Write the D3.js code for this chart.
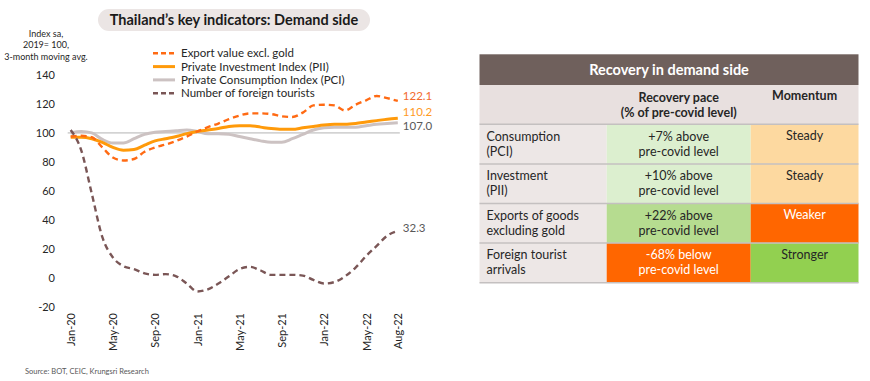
<!DOCTYPE html>
<html>
<head>
<meta charset="utf-8">
<script src="https://d3js.org/d3.v7.min.js"></script>
<style>
  body { margin: 0; background: #fff; }
  text { font-family: Lato, "Open Sans", sans-serif; }
</style>
</head>
<body>
<div id="viz"></div>
<script>
// monthly data, Jan-20 .. Aug-22
const months = d3.range(32);
const tickMonths = [0, 4, 8, 12, 16, 20, 24, 28, 31];
const tickLabels = ["Jan-20", "May-20", "Sep-20", "Jan-21", "May-21", "Sep-21", "Jan-22", "May-22", "Aug-22"];
const yTicks = [140, 120, 100, 80, 60, 40, 20, 0, -20];

const exportsExGold = [97.5, 98, 97, 90, 83, 81, 82, 87, 90, 92, 94.5, 97.5, 101, 104, 106.5, 109.5,
                       112, 113.5, 113.5, 113, 111.5, 111, 114, 119, 119.5, 119, 115.5, 119.5, 122.5, 125.5, 124, 122.1];
const pii = [97, 97, 96, 93.5, 90, 88, 88.5, 91.5, 94.5, 96, 97.5, 99.5, 101, 102, 103, 104.5,
             105, 105, 104, 103, 102.5, 102.5, 103.5, 104.5, 105.5, 106, 106, 106.5, 107.5, 108.5, 109.5, 110.2];
const pci = [100, 101, 100, 95.5, 93, 93, 96, 99, 100.5, 101, 101.5, 102, 101, 99.5, 99.5, 99,
             97.5, 96, 94.5, 93.5, 93.5, 96, 99, 102, 103.5, 104, 104, 104, 105, 106, 106.5, 107.0];
const tourists = [102, 88, 58, 28, 14, 8, 6, 3, 2, 2.5, 1, -4, -9.5, -8, -4, 1,
                  6, 7.5, 5, 2, 2, 2, 1.5, -1.5, -4, -3, 1, 7, 15, 22, 29, 32.3];

const seriesNames = ["Export value excl. gold", "Private Investment Index (PII)",
                     "Private Consumption Index (PCI)", "Number of foreign tourists"];

// table data
const tableTitle = "Recovery in demand side";
const rowNames = [["Consumption", "(PCI)"], ["Investment", "(PII)"],
                  ["Exports of goods", "excluding gold"], ["Foreign tourist", "arrivals"]];
const paceValues = [7, 10, 22, -68];
const paceText = [["+7% above", "pre-covid level"], ["+10% above", "pre-covid level"],
                  ["+22% above", "pre-covid level"], ["-68% below", "pre-covid level"]];
const momentum = ["Steady", "Steady", "Weaker", "Stronger"];

const W = 870, H = 381;
const svg = d3.select("#viz").append("svg").attr("width", W).attr("height", H);

const x = d3.scaleLinear().domain([0, 31]).range([70.7, 397.8]);
const y = d3.scaleLinear().domain([-20, 140]).range([306.7, 75]);

// title pill
svg.append("rect").attr("x", 98).attr("y", 9).attr("width", 272).attr("height", 22)
   .attr("rx", 11).attr("fill", "#ebe5e4");
svg.append("text").attr("x", 234).attr("y", 20).attr("dy", "0.35em")
   .attr("text-anchor", "middle").attr("font-weight", "bold").attr("font-size", 14.5)
   .attr("fill", "#1a1a1a").text("Thailand\u2019s key indicators: Demand side");

// y axis title
["Index sa,", "2019= 100,", "3-month moving avg."].forEach((t, i) => {
  svg.append("text").attr("x", 46).attr("y", 33.5 + i * 11.5).attr("dy", "0.35em")
     .attr("text-anchor", "middle").attr("font-size", 9).attr("fill", "#262626").text(t);
});

// y axis (labels only)
const yAxis = svg.append("g").attr("transform", "translate(55,0)")
  .call(d3.axisLeft(y).tickValues(yTicks).tickSize(0).tickPadding(0).tickFormat(d => String(d)));
yAxis.select(".domain").remove();
yAxis.selectAll("text").attr("font-size", 11).attr("fill", "#262626")
     .style("font-family", "Lato, sans-serif");

// x axis (rotated labels only)
const xAxis = svg.append("g").attr("transform", "translate(0,313)")
  .call(d3.axisBottom(x).tickValues(tickMonths).tickSize(0)
          .tickFormat((d, i) => tickLabels[i]));
xAxis.select(".domain").remove();
xAxis.selectAll("text")
     .attr("transform", "rotate(-90)")
     .attr("x", 0).attr("y", 0).attr("dy", "0.35em")
     .attr("text-anchor", "end")
     .attr("font-size", 11).attr("fill", "#262626")
     .style("font-family", "Lato, sans-serif");

// reference line at 100
svg.append("line").attr("x1", x(0) - 3).attr("x2", x(31) + 2)
   .attr("y1", y(100)).attr("y2", y(100))
   .attr("stroke", "#b3b3b3").attr("stroke-width", 1);

const line = d3.line().x(d => x(d[0])).y(d => y(d[1])).curve(d3.curveMonotoneX);
const styles = [
  {data: exportsExGold, color: "#ff6a13", width: 2.4, dash: "6,4"},
  {data: pii, color: "#ff9a0a", width: 3, dash: null},
  {data: pci, color: "#ccc2c2", width: 3, dash: null},
  {data: tourists, color: "#7a5656", width: 2.4, dash: "6,4"}
];
// draw order: pci, pii, exports, tourists
[2, 1, 0, 3].forEach(k => {
  const s = styles[k];
  svg.append("path")
     .datum(months.map(m => [m, s.data[m]]))
     .attr("fill", "none").attr("stroke", s.color)
     .attr("stroke-width", s.width)
     .attr("stroke-dasharray", s.dash)
     .attr("d", line);
});

// legend
seriesNames.forEach((name, i) => {
  const ly = 53.3 + i * 13.3;
  svg.append("line").attr("x1", 153).attr("x2", 175).attr("y1", ly).attr("y2", ly)
     .attr("stroke", styles[i].color).attr("stroke-width", styles[i].width)
     .attr("stroke-dasharray", styles[i].dash ? "5,3" : null);
  svg.append("text").attr("x", 181).attr("y", ly).attr("dy", "0.35em")
     .attr("font-size", 11.5).attr("fill", "#262626").text(name);
});

// end labels
const endLabels = [
  {v: exportsExGold[31], dy: 96, color: "#f26a2e"},
  {v: pii[31], dy: 111.5, color: "#ff9a1e"},
  {v: pci[31], dy: 126, color: "#595959"},
  {v: tourists[31], dy: 227.7, color: "#595959"}
];
endLabels.forEach(l => {
  svg.append("text").attr("x", x(31) + 5).attr("y", l.dy).attr("dy", "0.35em")
     .attr("font-size", 11.5).attr("fill", l.color).text(l.v.toFixed(1));
});

// source
svg.append("text").attr("x", 25).attr("y", 371).attr("dy", "0.35em")
   .attr("font-size", 7.5).attr("fill", "#595959").text("Source: BOT, CEIC, Krungsri Research");

// ---------- table ----------
const tx = [479.5, 606.7, 750.7, 858.5];
const headTop = 54.3, headBot = 85, subBot = 124.3, rowH = 39.6;
const paceColor = d3.scaleThreshold().domain([0, 15]).range(["#ff6600", "#dcefcf", "#b6dc90"]);
const momColor = {"Steady": "#fdd9a0", "Weaker": "#ff6600", "Stronger": "#92d050"};
const darkText = "#262626";

const tbl = svg.append("g");
tbl.append("rect").attr("x", tx[0]).attr("y", headTop).attr("width", tx[3] - tx[0])
   .attr("height", headBot - headTop).attr("fill", "#6f605c");
tbl.append("text").attr("x", (tx[0] + tx[3]) / 2).attr("y", 70).attr("dy", "0.35em")
   .attr("text-anchor", "middle").attr("font-weight", "bold").attr("font-size", 14.5)
   .attr("fill", "#ffffff").text(tableTitle);

tbl.append("rect").attr("x", tx[0]).attr("y", headBot).attr("width", tx[3] - tx[0])
   .attr("height", subBot - headBot).attr("fill", "#e8e0df");
[["Recovery pace", 97.5], ["(% of pre-covid level)", 112.5]].forEach(([t, ty]) => {
  tbl.append("text").attr("x", (tx[1] + tx[2]) / 2).attr("y", ty).attr("dy", "0.35em")
     .attr("text-anchor", "middle").attr("font-weight", "bold").attr("font-size", 12.5)
     .attr("fill", darkText).text(t);
});
tbl.append("text").attr("x", (tx[2] + tx[3]) / 2).attr("y", 96).attr("dy", "0.35em")
   .attr("text-anchor", "middle").attr("font-weight", "bold").attr("font-size", 12.5)
   .attr("fill", darkText).text("Momentum");

rowNames.forEach((rn, i) => {
  const top = subBot + i * rowH;
  tbl.append("rect").attr("x", tx[0]).attr("y", top).attr("width", tx[1] - tx[0])
     .attr("height", rowH).attr("fill", "#ede7e6");
  const pc = paceColor(paceValues[i]);
  tbl.append("rect").attr("x", tx[1]).attr("y", top).attr("width", tx[2] - tx[1])
     .attr("height", rowH).attr("fill", pc);
  const mc = momColor[momentum[i]];
  tbl.append("rect").attr("x", tx[2]).attr("y", top).attr("width", tx[3] - tx[2])
     .attr("height", rowH).attr("fill", mc);

  rn.forEach((t, j) => {
    tbl.append("text").attr("x", tx[0] + 7).attr("y", top + 12 + j * 15).attr("dy", "0.35em")
       .attr("font-size", 12.5).attr("fill", darkText).text(t);
  });
  paceText[i].forEach((t, j) => {
    tbl.append("text").attr("x", (tx[1] + tx[2]) / 2).attr("y", top + 12 + j * 15).attr("dy", "0.35em")
       .attr("text-anchor", "middle").attr("font-size", 12.5)
       .attr("fill", pc === "#ff6600" ? "#ffffff" : darkText).text(t);
  });
  tbl.append("text").attr("x", (tx[2] + tx[3]) / 2).attr("y", top + 11.5).attr("dy", "0.35em")
     .attr("text-anchor", "middle").attr("font-size", 12.5)
     .attr("fill", mc === "#ff6600" ? "#ffffff" : darkText).text(momentum[i]);
});

// row separators
d3.range(5).forEach(i => {
  tbl.append("line").attr("x1", tx[0]).attr("x2", tx[3])
     .attr("y1", subBot + i * rowH).attr("y2", subBot + i * rowH)
     .attr("stroke", "#c4c0c0").attr("stroke-width", 1.5);
});
</script>
</body>
</html>
